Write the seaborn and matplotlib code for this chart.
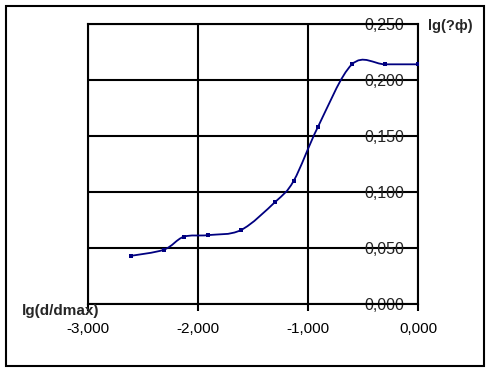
import numpy as np
import pandas as pd
import seaborn as sns
import matplotlib.pyplot as plt
from matplotlib.path import Path
from matplotlib.patches import PathPatch, Rectangle
from matplotlib.ticker import FuncFormatter

# values
lg_d = [-2.61, -2.31, -2.13, -1.91, -1.61, -1.30, -1.13, -0.91, -0.60, -0.30, 0.00]
lg_phi = [0.043, 0.0485, 0.060, 0.0615, 0.066, 0.091, 0.110, 0.158, 0.214, 0.214, 0.214]
x_ticks = [-3, -2, -1, 0]
y_ticks = [0.0, 0.05, 0.10, 0.15, 0.20, 0.25]

df = pd.DataFrame({"x": lg_d, "y": lg_phi})

sns.set_style("white")
plt.rcParams["font.family"] = ["Liberation Sans", "DejaVu Sans"]

navy = "#000080"
fig = plt.figure(figsize=(4.88, 3.71), dpi=100)
ax = fig.add_axes([88 / 488, 1 - 304 / 371, 330 / 488, 280 / 371])

# smooth line like the spreadsheet "smoothed line" option (Bezier through the points)
pts = df[["x", "y"]].to_numpy()
ext = np.vstack([pts[0], pts, pts[-1]])
verts = [tuple(pts[0])]
codes = [Path.MOVETO]
for i in range(1, len(ext) - 2):
    p0, p1, p2, p3 = ext[i - 1], ext[i], ext[i + 1], ext[i + 2]
    verts += [tuple(p1 + (p2 - p0) / 6), tuple(p2 - (p3 - p1) / 6), tuple(p2)]
    codes += [Path.CURVE4] * 3
ax.add_patch(PathPatch(Path(verts, codes), facecolor="none", edgecolor=navy, lw=1.3, zorder=3))

sns.scatterplot(data=df, x="x", y="y", marker="s", s=12, color=navy,
                edgecolor=navy, linewidth=0, ax=ax, zorder=4, legend=False)

ax.set_xlim(-3, 0)
ax.set_ylim(0, 0.25)
ax.set_xticks(x_ticks)
ax.set_yticks(y_ticks)
ax.grid(True, color="black", lw=1.5)
for s in ax.spines.values():
    s.set_color("black")
    s.set_linewidth(1.5)

fmt = FuncFormatter(lambda v, p: f"{v:.3f}".replace(".", ","))
ax.xaxis.set_major_formatter(fmt)
ax.yaxis.set_major_formatter(fmt)
ax.tick_params(axis="x", direction="out", length=5, width=1.5, pad=8,
               labelsize=11, colors="black", bottom=True)
ax.yaxis.tick_right()
ax.tick_params(axis="y", length=0, pad=-10, labelsize=11.5, labelcolor="#222222")
for lab in ax.get_yticklabels():
    lab.set_horizontalalignment("right")

ax.set_xlabel("")
ax.set_ylabel("")
fig.text(22 / 488, 1 - 311 / 371, "lg(d/dmax)", fontsize=11, fontweight="bold",
         ha="left", va="center")
fig.text(428 / 488, 1 - 26 / 371, "lg(?ф)", fontsize=10.5, fontweight="bold",
         ha="left", va="center")

# outer frame of the chart area
fig.patches.append(Rectangle((6 / 488, 5 / 371), 478 / 488, 360 / 371,
                             transform=fig.transFigure, fill=False,
                             edgecolor="black", lw=1.5))

fig.savefig("out.png", dpi=100)
